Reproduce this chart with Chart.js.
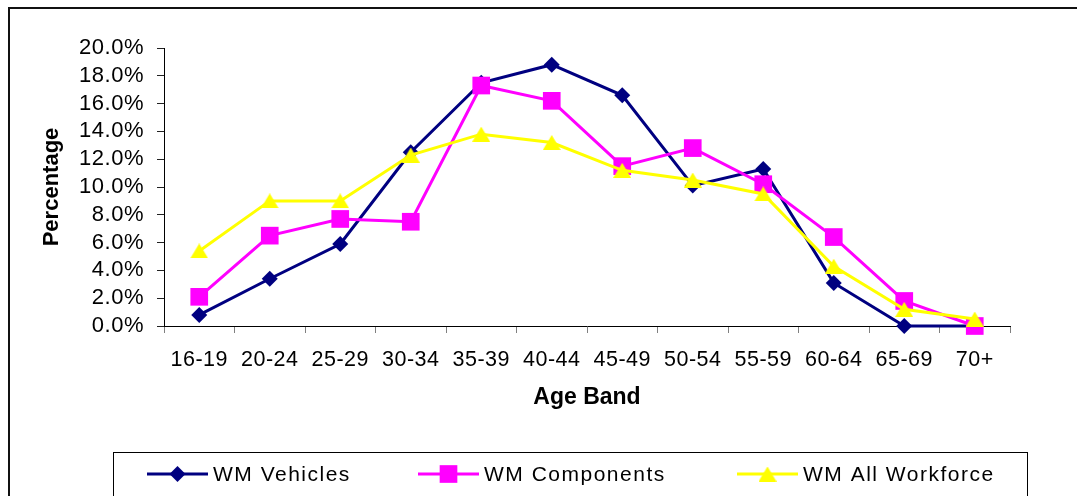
<!DOCTYPE html>
<html>
<head>
<meta charset="utf-8">
<script src="https://cdn.jsdelivr.net/npm/chart.js@4/dist/chart.umd.min.js"></script>
<style>
  html, body { margin: 0; padding: 0; background: #fff; overflow: hidden; }
  canvas { display: block; }
</style>
</head>
<body>
<canvas id="ageChart" width="1077" height="496"></canvas>
<script>
// Age distribution of the workforce, percentage per age band
const ageBands = ['16-19', '20-24', '25-29', '30-34', '35-39', '40-44', '45-49', '50-54', '55-59', '60-64', '65-69', '70+'];
const vehicles = [0.8, 3.4, 5.9, 12.5, 17.5, 18.8, 16.6, 10.1, 11.3, 3.1, 0.0, 0.0];
const components = [2.1, 6.5, 7.7, 7.5, 17.3, 16.2, 11.5, 12.8, 10.2, 6.4, 1.8, 0.0];
const allWorkforce = [5.4, 9.0, 9.0, 12.3, 13.8, 13.2, 11.2, 10.5, 9.5, 4.3, 1.2, 0.5];
const seriesNames = ['WM Vehicles', 'WM Components', 'WM All Workforce'];
const percentTicks = [0, 2, 4, 6, 8, 10, 12, 14, 16, 18, 20];

const FONT = "'Liberation Sans', Arial, sans-serif";

// Triangle marker centred in its own bounding box
function triangleMarker(color, w, h) {
  const c = document.createElement('canvas');
  c.width = w; c.height = h;
  const g = c.getContext('2d');
  g.fillStyle = color;
  g.beginPath();
  g.moveTo(w / 2, 0);
  g.lineTo(w, h);
  g.lineTo(0, h);
  g.closePath();
  g.fill();
  return c;
}

const NAVY = '#000080', MAGENTA = '#FF00FF', YELLOW = '#FFFF00';

// Outer frame of the chart object; tick labels get a little extra tracking
const framePlugin = {
  id: 'frame',
  beforeDraw(chart) {
    const ctx = chart.ctx;
    ctx.save();
    ctx.fillStyle = '#111';
    ctx.fillRect(8, 7, chart.width, 2);
    ctx.fillRect(8, 7, 2, chart.height);
    ctx.restore();
    ctx.letterSpacing = '0px';
  },
  afterDatasetsDraw(chart) {
    chart.ctx.letterSpacing = '0.5px';
  }
};

// Boxed legend with line + marker samples
const legendBoxPlugin = {
  id: 'legendBox',
  afterDraw(chart) {
    const ctx = chart.ctx;
    ctx.save();
    ctx.strokeStyle = '#000';
    ctx.lineWidth = 1;
    ctx.strokeRect(113.5, 452.5, 914, 200);
    const starts = [147, 418, 737];
    const y = 474;
    ctx.font = '21px ' + FONT;
    ctx.letterSpacing = '1.5px';
    ctx.textBaseline = 'middle';
    ctx.textAlign = 'left';
    chart.data.datasets.forEach((ds, i) => {
      const x0 = starts[i];
      ctx.strokeStyle = ds.borderColor;
      ctx.lineWidth = 3;
      ctx.beginPath();
      ctx.moveTo(x0, y);
      ctx.lineTo(x0 + 61, y);
      ctx.stroke();
      ctx.fillStyle = ds.pointBackgroundColor;
      Chart.helpers.drawPoint(ctx, { pointStyle: ds.pointStyle, radius: ds.pointRadius, borderWidth: 0, rotation: 0 }, x0 + 30.5, y);
      ctx.fillStyle = '#000';
      ctx.fillText(ds.label, x0 + 66, y + 1);
    });
    ctx.restore();
  }
};

const seriesValues = [vehicles, components, allWorkforce];
const seriesColors = [NAVY, MAGENTA, YELLOW];
const seriesMarkers = ['rectRot', 'rect', triangleMarker(YELLOW, 18, 15)];
const seriesRadius = [8, 12.5, 10];

new Chart(document.getElementById('ageChart'), {
  type: 'line',
  data: {
    labels: ageBands,
    datasets: seriesValues.map((vals, i) => ({
      label: seriesNames[i],
      data: vals,
      borderColor: seriesColors[i],
      backgroundColor: seriesColors[i],
      pointBackgroundColor: seriesColors[i],
      pointBorderColor: seriesColors[i],
      pointBorderWidth: 0,
      pointStyle: seriesMarkers[i],
      pointRadius: seriesRadius[i],
      pointHoverRadius: seriesRadius[i],
      borderWidth: 3,
      tension: 0,
      fill: false,
      clip: false,
      order: 3 - i
    }))
  },
  options: {
    responsive: false,
    animation: false,
    events: [],
    layout: { padding: { left: 0, top: 48, right: 67, bottom: 0 } },
    plugins: {
      legend: { display: false },
      tooltip: { enabled: false },
      title: { display: false }
    },
    scales: {
      x: {
        type: 'category',
        offset: true,
        afterFit(scale) { scale.height = 170; },
        grid: { offset: true, drawOnChartArea: false, drawTicks: true, tickLength: 7, color: '#808080', lineWidth: 1 },
        border: { display: true, color: '#000', width: 1 },
        ticks: { z: 1, color: '#000', font: { family: FONT, size: 21.5 }, padding: 14, maxRotation: 0, autoSkip: false },
        title: { display: true, text: 'Age Band', color: '#000', font: { family: FONT, size: 23, weight: 'bold' }, padding: { top: 0, bottom: 85 } }
      },
      y: {
        min: 0,
        max: 20,
        afterFit(scale) { scale.width = 164; },
        afterBuildTicks(scale) { scale.ticks = percentTicks.map(v => ({ value: v })); },
        grid: { drawOnChartArea: false, drawTicks: true, tickLength: 7, color: '#222', lineWidth: 1 },
        border: { display: true, color: '#000', width: 1 },
        ticks: { z: 1, color: '#000', font: { family: FONT, size: 22 }, padding: 13, autoSkip: false, callback: v => v.toFixed(1) + '%' },
        title: { display: true, text: 'Percentage', color: '#000', font: { family: FONT, size: 22, weight: 'bold' }, padding: { top: 39, bottom: 0 } }
      }
    }
  },
  plugins: [framePlugin, legendBoxPlugin]
});
</script>
</body>
</html>
